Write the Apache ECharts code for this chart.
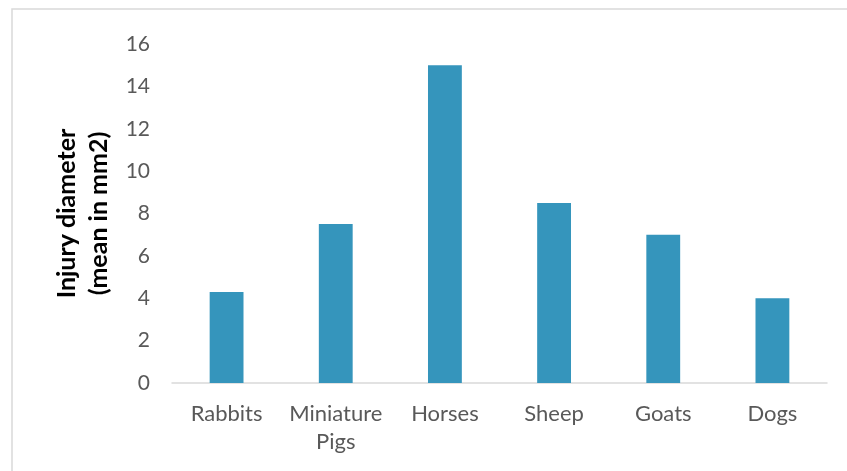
<!DOCTYPE html>
<html>
<head>
<meta charset="utf-8">
<script src="https://cdn.jsdelivr.net/npm/echarts@6/dist/echarts.min.js"></script>
<style>
  html, body { margin: 0; padding: 0; background: #fff; }
  #chart { width: 847px; height: 471px; }
</style>
</head>
<body>
<div id="chart"></div>
<script>
// Mean injury diameter by animal model
const categories = ['Rabbits', 'Miniature\nPigs', 'Horses', 'Sheep', 'Goats', 'Dogs'];
const values = [4.3, 7.5, 15, 8.5, 7, 4];
const yTicks = { min: 0, max: 16, interval: 2 };
const yTitle = 'Injury diameter\n(mean in mm2)';

const chart = echarts.init(document.getElementById('chart'), null, { renderer: 'canvas' });
const FONT = 'Lato, "Open Sans", sans-serif';

chart.setOption({
  animation: false,
  backgroundColor: '#fff',
  graphic: [{
    type: 'rect',
    shape: { x: 12, y: 9, width: 900, height: 500 },
    style: { fill: 'none', stroke: '#d9d9d9', lineWidth: 1.5 },
    silent: true
  }],
  grid: { left: 172, right: 20, top: 44, bottom: 88 },
  xAxis: {
    type: 'category',
    data: categories,
    axisLine: { lineStyle: { color: '#d9d9d9', width: 1.5 } },
    axisTick: { show: false },
    axisLabel: { interval: 0, color: '#595959', fontFamily: FONT, fontSize: 22, margin: 17, lineHeight: 28 }
  },
  yAxis: {
    type: 'value',
    min: yTicks.min,
    max: yTicks.max,
    interval: yTicks.interval,
    name: yTitle,
    nameLocation: 'middle',
    nameGap: 57,
    nameTextStyle: { color: '#000', fontFamily: FONT, fontSize: 25, fontWeight: 'bold', lineHeight: 32 },
    axisLine: { show: false },
    axisTick: { show: false },
    splitLine: { show: false },
    axisLabel: { color: '#595959', fontFamily: FONT, fontSize: 21, margin: 22 }
  },
  series: [{
    type: 'bar',
    data: values,
    barWidth: '31%',
    itemStyle: { color: '#3595BC' }
  }]
});
</script>
</body>
</html>
